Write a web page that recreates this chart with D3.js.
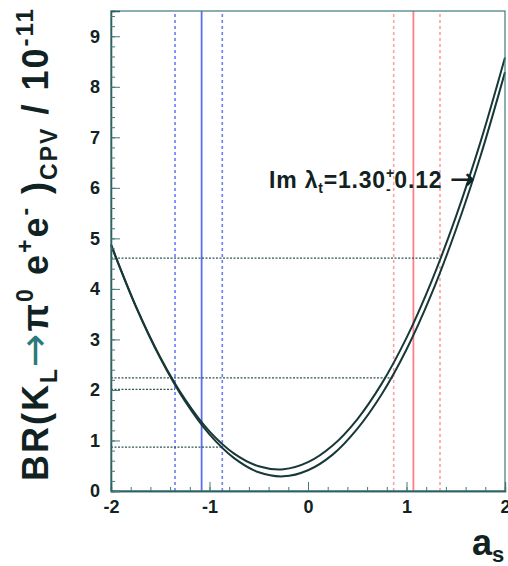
<!DOCTYPE html>
<html>
<head>
<meta charset="utf-8">
<script src="https://cdn.jsdelivr.net/npm/d3@7"></script>
<style>
  html, body { margin: 0; padding: 0; background: #fff; }
  svg { display: block; }
  text { font-family: "Liberation Sans", Arial, Helvetica, sans-serif; font-weight: bold; fill: #112222; }
</style>
</head>
<body>
<svg id="chart" width="508" height="566"></svg>
<script>
// ---- data ----
const aS = [-2, -1.75, -1.5, -1.25, -1, -0.75, -0.5, -0.25, 0, 0.25, 0.5, 0.75, 1, 1.25, 1.5, 1.75, 2];
const brUpper = [4.88, 3.67, 2.65, 1.82, 1.18, 0.74, 0.49, 0.43, 0.57, 0.90, 1.42, 2.13, 3.03, 4.13, 5.42, 6.90, 8.58];
const brLower = [4.87, 3.66, 2.63, 1.78, 1.12, 0.65, 0.37, 0.29, 0.41, 0.72, 1.23, 1.92, 2.80, 3.88, 5.16, 6.62, 8.29];
const blueLines = [{a: -1.35, dash: true}, {a: -1.08, dash: false}, {a: -0.87, dash: true}];
const redLines  = [{a: 0.87, dash: true}, {a: 1.07, dash: false}, {a: 1.34, dash: true}];
const hLines = [{br: 4.61, to: 1.34}, {br: 2.24, to: 0.87}, {br: 2.01, to: -1.35}, {br: 0.87, to: -0.87}];
const xTicks = [-2, -1, 0, 1, 2];
const yTicks = [0, 1, 2, 3, 4, 5, 6, 7, 8, 9];
const xDomain = [-2, 2];
const yDomain = [0, 9.5];

// ---- layout ----
const svg = d3.select("#chart");
const m = {left: 111, right: 3, top: 11, bottom: 75};
const W = 508, H = 566;
const x = d3.scaleLinear().domain(xDomain).range([m.left, W - m.right]);
const y = d3.scaleLinear().domain(yDomain).range([H - m.bottom, m.top]);

const g = svg.append("g");

// vertical lines
function vlines(list, solidColor, dashColor) {
  g.selectAll(null).data(list).enter().append("line")
    .attr("x1", d => x(d.a)).attr("x2", d => x(d.a))
    .attr("y1", y(yDomain[0])).attr("y2", y(yDomain[1]))
    .attr("stroke", d => d.dash ? dashColor : solidColor)
    .attr("stroke-width", d => d.dash ? 1.6 : 1.8)
    .attr("stroke-dasharray", d => d.dash ? "3,3" : null);
}
vlines(blueLines, "#5a6ef2", "#6a7cf6");
vlines(redLines, "#ff7f86", "#ff9ea3");

// horizontal dotted lines
g.selectAll(null).data(hLines).enter().append("line")
  .attr("x1", x(xDomain[0])).attr("x2", d => x(d.to))
  .attr("y1", d => y(d.br)).attr("y2", d => y(d.br))
  .attr("stroke", "#2f5555").attr("stroke-width", 1.3)
  .attr("stroke-dasharray", "2,1.5");

// curves
const line = d3.line().x((d, i) => x(aS[i])).y(d => y(d)).curve(d3.curveCatmullRom);
[brUpper, brLower].forEach(s => {
  g.append("path").attr("d", line(s)).attr("fill", "none")
    .attr("stroke", "#183838").attr("stroke-width", 2);
});

// frame
g.append("rect").attr("x", x(xDomain[0])).attr("y", y(yDomain[1]))
  .attr("width", x(xDomain[1]) - x(xDomain[0])).attr("height", y(yDomain[0]) - y(yDomain[1]))
  .attr("fill", "none").attr("stroke", "#3f7a7a").attr("stroke-width", 1.2);

// axes
const xMinor = d3.range(-2, 2.001, 0.2);
const yMinor = d3.range(0, 9.501, 0.2);
const xAx = g.append("g").attr("transform", `translate(0,${y(0)})`)
  .call(d3.axisBottom(x).tickValues(xTicks).tickSize(-9).tickPadding(9).tickFormat(d3.format("d")));
const xAxm = g.append("g").attr("transform", `translate(0,${y(0)})`)
  .call(d3.axisBottom(x).tickValues(xMinor).tickSize(-4).tickFormat(""));
const yAx = g.append("g").attr("transform", `translate(${x(-2)},0)`)
  .call(d3.axisLeft(y).tickValues(yTicks).tickSize(-9).tickPadding(11).tickFormat(d3.format("d")));
const yAxm = g.append("g").attr("transform", `translate(${x(-2)},0)`)
  .call(d3.axisLeft(y).tickValues(yMinor).tickSize(-4).tickFormat(""));
[xAx, xAxm, yAx, yAxm].forEach(a => {
  a.select(".domain").attr("stroke", "#2f5f5f").attr("stroke-width", 1.3);
  a.selectAll(".tick line").attr("stroke", "#3f7a7a").attr("stroke-width", 1);
});
[xAx, yAx].forEach(a => a.selectAll(".tick text")
  .attr("font-size", 18).attr("font-family", "Liberation Sans, Arial, sans-serif")
  .attr("font-weight", "bold").attr("fill", "#112222")
  .text(d => d < 0 ? "-" + Math.abs(d) : d));

// x title
const xt = svg.append("text").attr("x", 472).attr("y", 555).attr("font-size", 36);
xt.append("tspan").text("a");
xt.append("tspan").attr("font-size", 22).attr("dy", 7).text("s");

// y title
const yt = svg.append("text")
  .attr("transform", "translate(48,481) rotate(-90)")
  .attr("font-size", 36).attr("letter-spacing", 2);
yt.append("tspan").text("BR(K");
yt.append("tspan").attr("font-size", 23).attr("dy", 9).text("L");
yt.append("tspan").attr("dy", -9).attr("font-weight", "normal").attr("fill", "#2b7a7a")
  .attr("font-family", "DejaVu Sans, sans-serif").attr("font-size", 40).text("→");
yt.append("tspan").text("π");
yt.append("tspan").attr("font-size", 23).attr("dy", -15).text("0");
yt.append("tspan").attr("dy", 15).text(" e");
yt.append("tspan").attr("font-size", 23).attr("dy", -15).text("+");
yt.append("tspan").attr("dy", 15).text("e");
yt.append("tspan").attr("font-size", 23).attr("dy", -15).text("-");
yt.append("tspan").attr("dy", 15).text(" )");
yt.append("tspan").attr("font-size", 23).attr("dy", 9).text("CPV");
yt.append("tspan").attr("dy", -9).text(" / 10");
yt.append("tspan").attr("font-size", 24).attr("dy", -15).text("-11");

// annotation
const an = svg.append("text").attr("x", 269).attr("y", 188).attr("font-size", 23).attr("letter-spacing", 0.8);
an.append("tspan").text("Im λ");
an.append("tspan").attr("font-size", 14).attr("dy", 5).text("t");
an.append("tspan").attr("dy", -5).text("=1.30");
an.append("tspan").attr("font-size", 14).attr("dy", -10).text("+");
an.append("tspan").attr("font-size", 14).attr("dx", -9).attr("dy", 16).text("-");
an.append("tspan").attr("dx", 3).attr("dy", -6).text("0.12 ");
an.append("tspan").attr("font-weight", "normal").attr("font-family", "DejaVu Sans, sans-serif")
  .attr("font-size", 30).attr("dy", 1).text("→");
</script>
</body>
</html>
